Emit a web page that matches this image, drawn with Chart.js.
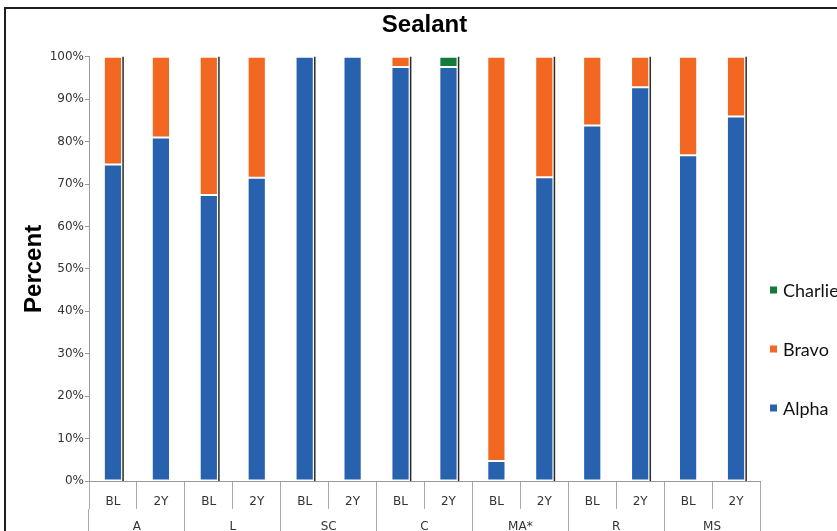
<!DOCTYPE html>
<html>
<head>
<meta charset="utf-8">
<script src="https://cdn.jsdelivr.net/npm/chart.js@4"></script>
<style>
  html, body { margin: 0; padding: 0; background: #fff; overflow: hidden; }
  #wrap { position: relative; width: 837px; height: 531px; }
  #frame { position: absolute; left: 4px; top: 7px; width: 850px; height: 540px;
           border-top: 2px solid #1e1e1e; border-left: 2px solid #1e1e1e; }
  canvas { position: absolute; left: 0; top: 0; }
</style>
</head>
<body>
<div id="wrap">
  <div id="frame"></div>
  <canvas id="sealantChart" width="837" height="531"></canvas>
</div>
<script>
// Groups and visits on the x axis
const groups = ['A', 'L', 'SC', 'C', 'MA*', 'R', 'MS'];
const visits = ['BL', '2Y'];

// Percent per bar (A BL, A 2Y, L BL, L 2Y, ...)
const alpha   = [74.6, 81.0, 67.4, 71.5, 100, 100, 97.6, 97.6, 4.7, 71.6, 83.8, 92.8, 76.8, 85.9];
const bravo   = [25.4, 19.0, 32.6, 28.5, 0, 0, 2.4, 0, 95.3, 28.4, 16.2, 7.2, 23.2, 14.1];
const charlie = [0, 0, 0, 0, 0, 0, 0, 2.4, 0, 0, 0, 0, 0, 0];

const barLabels = [];
groups.forEach(g => visits.forEach(v => barLabels.push(v)));

// bars that have the dark edge on their right side
const shadowed = [0, 2, 4, 6, 7, 9, 11, 13];

const barShadow = {
  id: 'barShadow',
  afterDatasetsDraw(chart) {
    const ctx = chart.ctx;
    const meta = chart.getDatasetMeta(0);
    const y = chart.scales.y;
    ctx.save();
    ctx.strokeStyle = '#2a2a2a';
    ctx.lineWidth = 1.5;
    shadowed.forEach(i => {
      const bar = meta.data[i];
      const x = bar.x + bar.width / 2 + 1;
      ctx.beginPath();
      ctx.moveTo(x, y.getPixelForValue(100));
      ctx.lineTo(x, y.getPixelForValue(0));
      ctx.stroke();
    });
    ctx.restore();
  }
};

// legend on the right, Charlie on top
const sideLegend = {
  id: 'sideLegend',
  afterDraw(chart) {
    const { ctx, chartArea } = chart;
    ctx.save();
    ctx.font = '18px Lato';
    ctx.textBaseline = 'middle';
    chart.data.datasets.forEach((ds, k) => {
      const yc = chartArea.bottom - 73 - k * 59;
      ctx.fillStyle = ds.backgroundColor;
      ctx.fillRect(chartArea.right + 10, yc - 3.5, 7, 7);
      ctx.fillStyle = '#111';
      ctx.fillText(ds.label, chartArea.right + 23, yc + 1);
    });
    ctx.restore();
  }
};

const segBorder = c => c.raw ? 1 : 0;

new Chart(document.getElementById('sealantChart'), {
  type: 'bar',
  data: {
    labels: barLabels,
    datasets: [
      { label: 'Alpha', data: alpha, backgroundColor: '#2862ae' },
      { label: 'Bravo', data: bravo, backgroundColor: '#f26822' },
      { label: 'Charlie', data: charlie, backgroundColor: '#127a3b' }
    ].map(ds => Object.assign(ds, {
      borderColor: 'rgba(255,255,255,0.45)',
      borderWidth: segBorder,
      borderSkipped: false,
      barPercentage: 0.38,
      categoryPercentage: 1
    }))
  },
  plugins: [barShadow, sideLegend],
  options: {
    responsive: false,
    animation: false,
    layout: { padding: { left: 10, right: 77, top: 0, bottom: 0 } },
    plugins: {
      legend: { display: false },
      tooltip: { enabled: false },
      title: {
        display: true,
        fullSize: false,
        text: 'Sealant',
        color: '#000',
        font: { family: 'Liberation Sans', size: 24, weight: 'bold' },
        padding: { top: 11, bottom: 17 }
      }
    },
    scales: {
      x: {
        stacked: true,
        offset: true,
        grid: { offset: true, drawOnChartArea: false, tickLength: 28, color: '#aaa' },
        border: { color: '#999' },
        ticks: { font: { family: 'DejaVu Sans', size: 12 }, color: '#333', padding: -14, maxRotation: 0, autoSkip: false },
        afterFit: s => { s.height = 28; }
      },
      x2: {
        type: 'category',
        labels: groups,
        position: 'bottom',
        offset: true,
        grid: { offset: true, drawOnChartArea: false, tickLength: 22, color: '#aaa' },
        border: { display: false },
        ticks: { font: { family: 'DejaVu Sans', size: 12 }, color: '#333', padding: -11, maxRotation: 0, autoSkip: false },
        afterFit: s => { s.height = 22; }
      },
      y: {
        stacked: true,
        min: 0,
        max: 100,
        ticks: { stepSize: 10, callback: v => v + '%', font: { family: 'DejaVu Sans', size: 12 }, color: '#333', padding: 1 },
        grid: { drawOnChartArea: false, tickLength: 4, color: '#999' },
        border: { color: '#999' },
        title: {
          display: true,
          text: 'Percent',
          color: '#000',
          font: { family: 'Liberation Sans', size: 24, weight: 'bold' },
          padding: { top: 10, bottom: 0 }
        },
        afterFit: s => { s.width = 79; }
      }
    }
  }
});
</script>
</body>
</html>
